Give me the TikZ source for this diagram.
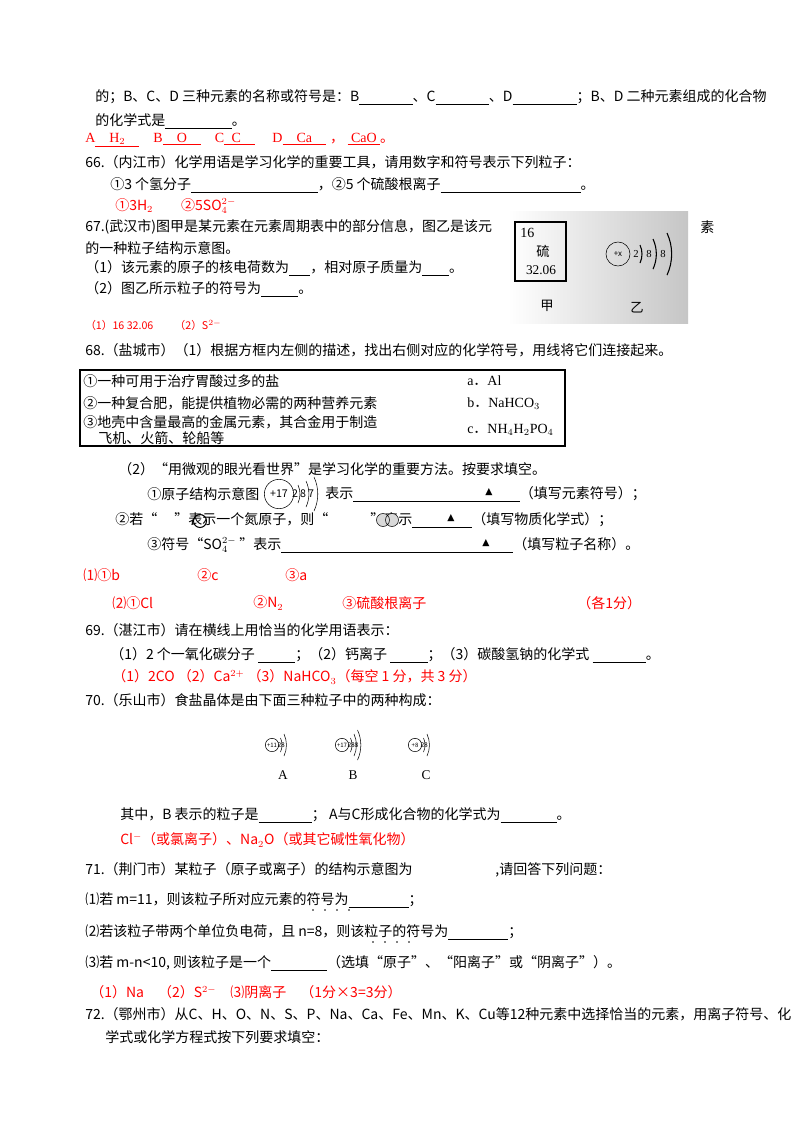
\documentclass[tikz,border=0pt]{standalone}
\usepackage{fontspec}
\setmainfont{Noto Sans CJK SC}
\newfontfamily\lat{Liberation Serif}
\newfontfamily\cjkf{Noto Sans CJK SC}
\newcommand\bl[1]{\rule[-2pt]{#1}{0.5pt}}
\newcommand\tri{{\fontspec{DejaVu Sans}\scriptsize ▲}}
\begin{document}
\begin{tikzpicture}[x=0.75pt,y=-0.75pt,
  t/.style={anchor=west,inner sep=0pt,font=\fontsize{10.5}{12}\selectfont},
  r/.style={t,text=red},
  sm/.style={inner sep=0pt,font=\fontsize{4.5}{5}\selectfont}]
\useasboundingbox (0,0) rectangle (800,1132);
\fill[white] (0,0) rectangle (800,1132);
\node[t] (l1) at (95,97) {的；B、C、D 三种元素的名称或符号是：B\bl{40pt}、C\bl{40pt}、D\bl{48pt}；B、D 二种元素组成的化合物};
\node[t] (l2) at (95,121) {的化学式是\bl{50pt}。};
\node[r] (l3) at (85,140) {\lat A\underline{\quad H$_2$\quad}\quad B\underline{\quad O\quad}\quad C\underline{\; C\quad}\quad\ D\underline{\quad Ca\quad}\;{\cjkf ，}\ \underline{\ CaO\ }{\cjkf 。}};
\node[t] (q66) at (85,162) {66.（内江市）化学用语是学习化学的重要工具，请用数字和符号表示下列粒子：};
\node[t] (l5) at (110,185) {①3 个氢分子\bl{95pt}，②5 个硫酸根离子\bl{105pt}。};
\node[r] (l6) at (115,206) {①3H$_2$\qquad ②5SO$_4^{2-}$};
\node[t] (q67) at (85,227) {67.(武汉市)图甲是某元素在元素周期表中的部分信息，图乙是该元};
\node[t] (su) at (700,227) {素};
\node[t] (l8) at (85,248) {的一种粒子结构示意图。};
\node[t] (l9) at (85,268) {（1）该元素的原子的核电荷数为\bl{16pt}，相对原子质量为\bl{20pt}。};
\node[t] (l10) at (85,289) {（2）图乙所示粒子的符号为\bl{28pt}。};
\node[r,font=\fontsize{8}{10}\selectfont] (l11) at (85,325) {（1）16 32.06\qquad （2）S$^{2-}$};
% figure 67
\shade[left color=white,right color=gray!45] (508,211) rectangle (688,323);
\draw[thick] (515,222) rectangle (566,281);
\node[t] (n16) at (520,233) {\lat 16};
\node[inner sep=0pt] (nS) at (543,251) {硫};
\node[inner sep=0pt] (nM) at (541,270) {\lat 32.06};
\node[inner sep=0pt] (jia) at (547,306) {甲};
\node[inner sep=0pt] (yi) at (637,308) {乙};
\node[draw,circle,minimum size=18pt,inner sep=0pt,font=\fontsize{6}{7}\selectfont] (nuc) at (618,254) {+x};
\foreach \x/\n/\h in {640/2/9,653/8/15,667/8/21}{
  \draw[thick] (\x,254-\h) arc[start angle=-25,end angle=25,radius=\h*2.37];
  \node[inner sep=0pt,font=\fontsize{8}{9}\selectfont] at (\x-4,254) {\lat\n};}
\node[t] (q68) at (85,350) {68.（盐城市）（1）根据方框内左侧的描述，找出右侧对应的化学符号，用线将它们连接起来。};
\draw[thick] (80,370) rectangle (565,446);
\node[t] (b1) at (83,381) {①一种可用于治疗胃酸过多的盐};
\node[t] (b2) at (83,403) {②一种复合肥，能提供植物必需的两种营养元素};
\node[t] (b3) at (83,422) {③地壳中含量最高的金属元素，其合金用于制造};
\node[t] (b4) at (98,438) {飞机、火箭、轮船等};
\node[t] (ba) at (467,381) {\lat a{\cjkf ．}Al};
\node[t] (bb) at (467,404) {\lat b{\cjkf ．}NaHCO$_3$};
\node[t] (bc) at (467,430) {\lat c{\cjkf ．}NH$_4$H$_2$PO$_4$};
\node[t] (p2) at (118,469) {（2）“用微观的眼光看世界”是学习化学的重要方法。按要求填空。};
\node[t] (s1) at (147,494) {①原子结构示意图};
\node[draw,circle,minimum size=22pt,inner sep=0pt,font=\fontsize{8}{9}\selectfont] (cl) at (279,494) {+17};
\foreach \x/\n/\h in {298/2/9,306/8/13,314/7/17}{
  \draw (\x,494-\h) arc[start angle=-25,end angle=25,radius=\h*2.37];
  \node[inner sep=0pt,font=\fontsize{8}{9}\selectfont] at (\x-3,494) {\n};}
\node[t] (s1b) at (325,494) {表示\bl{125pt}（填写元素符号）；};
\node[inner sep=0pt] (tr1) at (489,492) {\tri};
\node[t] (s2) at (115,520) {②若“\quad\ ”表示一个氮原子，则“\qquad\quad ”表示\bl{45pt}（填写物质化学式）；};
\draw[thick] (200,521) circle (6.5);
\filldraw[fill=gray!30] (383,520) circle (6.5) (392,520) circle (6.5);
\node[inner sep=0pt] (tr2) at (451,518) {\tri};
\node[t] (s3) at (147,545) {③符号“SO$_4^{2-}$ ”表示\bl{174pt}（填写粒子名称）。};
\node[inner sep=0pt] (tr3) at (486,543) {\tri};
\node[r] (a1) at (83,575) {⑴①b};
\node[r] (a2) at (197,575) {②c};
\node[r] (a3) at (285,575) {③a};
\node[r] (a4) at (112,603) {⑵①Cl};
\node[r] (a5) at (253,603) {②N$_2$};
\node[r] (a6) at (342,603) {③硫酸根离子};
\node[r] (a7) at (577,603) {（各1分）};
\node[t] (q69) at (85,630) {69.（湛江市）请在横线上用恰当的化学用语表示：};
\node[t] (l69) at (110,655) {（1）2 个一氧化碳分子 \bl{28pt}；（2）钙离子 \bl{28pt}；（3）碳酸氢钠的化学式 \bl{40pt}。};
\node[r] (a69) at (112,677) {（1）2CO （2）Ca$^{2+}$ （3）NaHCO$_3$（每空 1 分，共 3 分）};
\node[t] (q70) at (85,700) {70.（乐山市）食盐晶体是由下面三种粒子中的两种构成：};
\foreach \cx/\q/\ns/\lab in {272/+11/2/A,342/+17/3/B,415/+8/2/C}{
  \node[draw,circle,minimum size=10pt,sm] at (\cx,745) {\q};
  \foreach \k/\nn in {1/2,2/8,3/8}{
    \ifnum\k>\ns\else
    \draw[thin] (\cx+5+3.5*\k,745-3-4*\k) arc[start angle=-25,end angle=25,radius=(3+4*\k)*2.37];
    \node[sm,font=\fontsize{5}{6}\selectfont] at (\cx+4+3.5*\k,745) {\nn};\fi}
  \node[inner sep=0pt,font=\fontsize{10}{12}\selectfont\lat] at (\cx+11,775) {\lab};}
\node[t] (l70) at (120,815) {其中，B 表示的粒子是\bl{40pt}；\ A与C形成化合物的化学式为\bl{42pt}。};
\node[r] (a70) at (120,840) {Cl$^-$（或氯离子）、Na$_2$O（或其它碱性氧化物）};
\node[t] (q71) at (85,870) {71.（荆门市）某粒子（原子或离子）的结构示意图为\hspace{62pt},请回答下列问题：};
\node[t] (l71a) at (85,900) {⑴若 m=11，则该粒子所对应元素的符号为\bl{45pt}；};
\node[t] (l71b) at (85,932) {⑵若该粒子带两个单位负电荷，且 n=8，则该粒子的符号为\bl{45pt}；};
\node[t] (l71c) at (85,963) {⑶若 m-n<10, 则该粒子是一个\bl{42pt}（选填“原子”、“阳离子”或“阴离子”）。};
\foreach \x in {313,325,337,349} \fill (\x,910) circle (0.9);
\foreach \x in {373,385,397,409} \fill (\x,942) circle (0.9);
\node[r] (a71) at (90,992) {（1）Na\quad（2）S$^{2-}$\quad ⑶阴离子\quad（1分×3=3分）};
\node[t] (q72) at (85,1014) {72.（鄂州市）从C、H、O、N、S、P、Na、Ca、Fe、Mn、K、Cu等12种元素中选择恰当的元素，用离子符号、化};
\node[t] (l72) at (105,1037) {学式或化学方程式按下列要求填空：};
\end{tikzpicture}
\end{document}
